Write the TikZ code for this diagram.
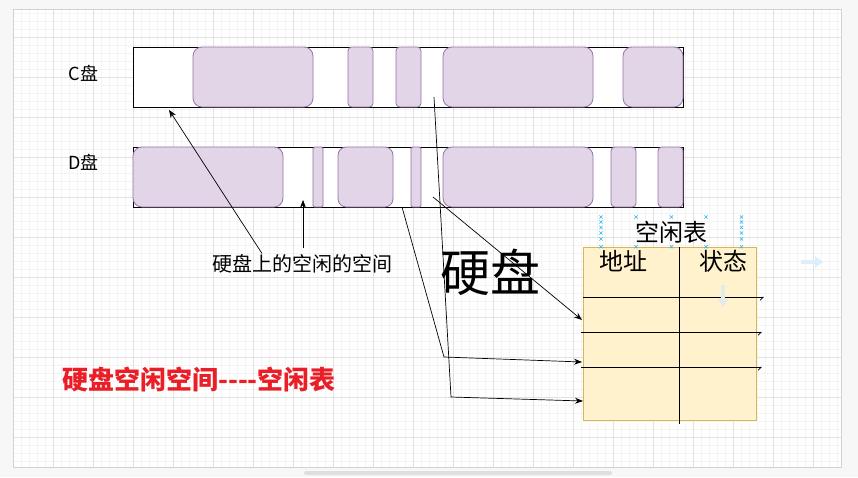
\documentclass[tikz,border=0pt]{standalone}
\usepackage{fontspec}
\newfontfamily\cjk{Noto Sans CJK SC}
\usetikzlibrary{arrows.meta,positioning,calc}
\definecolor{blockfill}{HTML}{E1D5E7}
\definecolor{blockline}{HTML}{9673A6}
\definecolor{tabfill}{HTML}{FFF2CC}
\definecolor{tabline}{HTML}{D6B656}
\definecolor{titlered}{RGB}{234,30,38}
\definecolor{gridminor}{HTML}{F4F4F4}
\definecolor{gridmajor}{HTML}{E2E2E2}
\definecolor{handleblue}{HTML}{29B6F2}
\definecolor{hoverblue}{HTML}{DCEFFA}
\definecolor{hovergreen}{HTML}{E2ECE8}

\begin{document}
\begin{tikzpicture}[x=1pt,y=-1pt,>={Stealth[length=8pt,width=6pt]},
    every node/.style={font=\cjk,inner sep=0pt},
    disk/.style={draw=black,line width=0.9pt,fill=white,anchor=north west},
    used/.style={draw=blockline,fill=blockfill,line width=0.8pt},
    link/.style={->,line width=0.7pt},
    rowline/.style={line width=0.7pt,-{Straight Barb[right,length=3pt,width=6pt]}}]
  \useasboundingbox (0,0) rectangle (858,477);
  % canvas with grid
  \fill[gray!6] (0,0) rectangle (858,477);
  \fill[white] (13,9) rectangle (841,467);
  \foreach \x in {13,21,...,837}
    \draw[gridminor,line width=0.5pt] (\x,9) -- (\x,467);
  \foreach \y in {13.7,21.7,...,462}
    \draw[gridminor,line width=0.5pt] (13,\y) -- (841,\y);
  \foreach \x in {13.5,53.5,...,814}
    \draw[gridmajor,line width=0.6pt] (\x,9) -- (\x,467);
  \foreach \y in {37.7,77.7,...,438}
    \draw[gridmajor,line width=0.6pt] (13,\y) -- (841,\y);
  \draw[gray!35,line width=0.6pt] (13,9) rectangle (841,467);
  \fill[gray!25,rounded corners=2pt] (304,471) rectangle (612,475);

  % disks
  \node[disk,minimum width=550,minimum height=60] (cdisk) at (133,47) {};
  \node[disk,minimum width=550,minimum height=60] (ddisk) at (133,147) {};
  \foreach \a/\b/\r in {193/313/9,348/373/3.75,396/421/3.75,443/593/9,623/683/9}
    \draw[used,rounded corners=\r] (\a,47) rectangle (\b,107);
  \foreach \a/\b/\r in {133/283/9,313/323/1.5,338/393/8.25,411/421/1.5,443/593/9,611/636/3.75,658/683/3.75}
    \draw[used,rounded corners=\r] (\a,147) rectangle (\b,207);
  \node[font=\cjk\fontsize{18}{22}\selectfont] (clabel) at (83.3,73.5) {C盘};
  \node[font=\cjk\fontsize{18}{22}\selectfont] (dlabel) at (83.3,162) {D盘};

  % free table
  \node[draw=tabline,fill=tabfill,line width=0.8pt,anchor=north west,
        minimum width=173,minimum height=173] (freetab) at (583,247) {};
  \draw[line width=0.7pt] (679,247) -- (679,424);
  \draw[rowline] (583,297.3) -- (764,297.3);
  \draw[rowline] (581,332.3) -- (762,332.3);
  \draw[rowline] (581,367.3) -- (762,367.3);
  \node[font=\cjk\fontsize{24}{28}\selectfont] (addr) at (623,261) {地址};
  \node[font=\cjk\fontsize{24}{28}\selectfont] (state) at (723,261) {状态};
  \node[font=\cjk\fontsize{24}{28}\selectfont] (tabtitle) at (671,232) {空闲表};
  % selection handles
  \foreach \x/\y in {601/217,601/222,601/227.5,601/233,601/239,601/246.7,
                     741.5/217,741.5/222,741.5/227.5,741.5/233,741.5/239,741.5/246.7,
                     636/217,671.5/217,706/217,636/246.7,671.5/246.7,706/246.7}
    \draw[handleblue,line width=0.6pt] (\x-1.6,\y-1.6) -- (\x+1.6,\y+1.6)
                                       (\x-1.6,\y+1.6) -- (\x+1.6,\y-1.6);
  \draw[hoverblue,line width=4pt,-{Triangle[length=8pt,width=11pt]}] (801,262) -- (823,262);
  \draw[hovergreen,line width=4pt,-{Triangle[length=8pt,width=11pt]}] (723,285) -- (723,307);

  % texts
  \node[font=\cjk\fontsize{50}{56}\selectfont] (hdd) at (490,272) {硬盘};
  \node[font=\cjk\fontsize{20}{24}\selectfont] (note) at (302.5,264) {硬盘上的空闲的空间};
  \node[font=\cjk\bfseries\fontsize{26}{30}\selectfont,text=titlered] (title) at (199,379)
    {硬盘空闲空间----空闲表};

  % connectors
  \coordinate (cfree) at (434,97);
  \coordinate (dfree) at (402,207);
  \coordinate (dgap) at (433,197);
  \coordinate (bendd) at (444,357);
  \coordinate (bendc) at (451,397);
  \draw[link] ($(note.north)+(-40.5,-1)$) -- ($(cdisk.south west)+(36,2)$);
  \draw[link] ($(note.north)+(0.5,-6)$) -- ($(ddisk.south west)+(170,-8)$);
  \draw[link] (dgap) -- ($(freetab.north west)+(-1,73)$);
  \draw[link] (dfree) -- (bendd) -- ($(freetab.north west)+(-1,115)$);
  \draw[link] (cfree) -- (bendc) -- ($(freetab.north west)+(0,154)$);
\end{tikzpicture}
\end{document}
